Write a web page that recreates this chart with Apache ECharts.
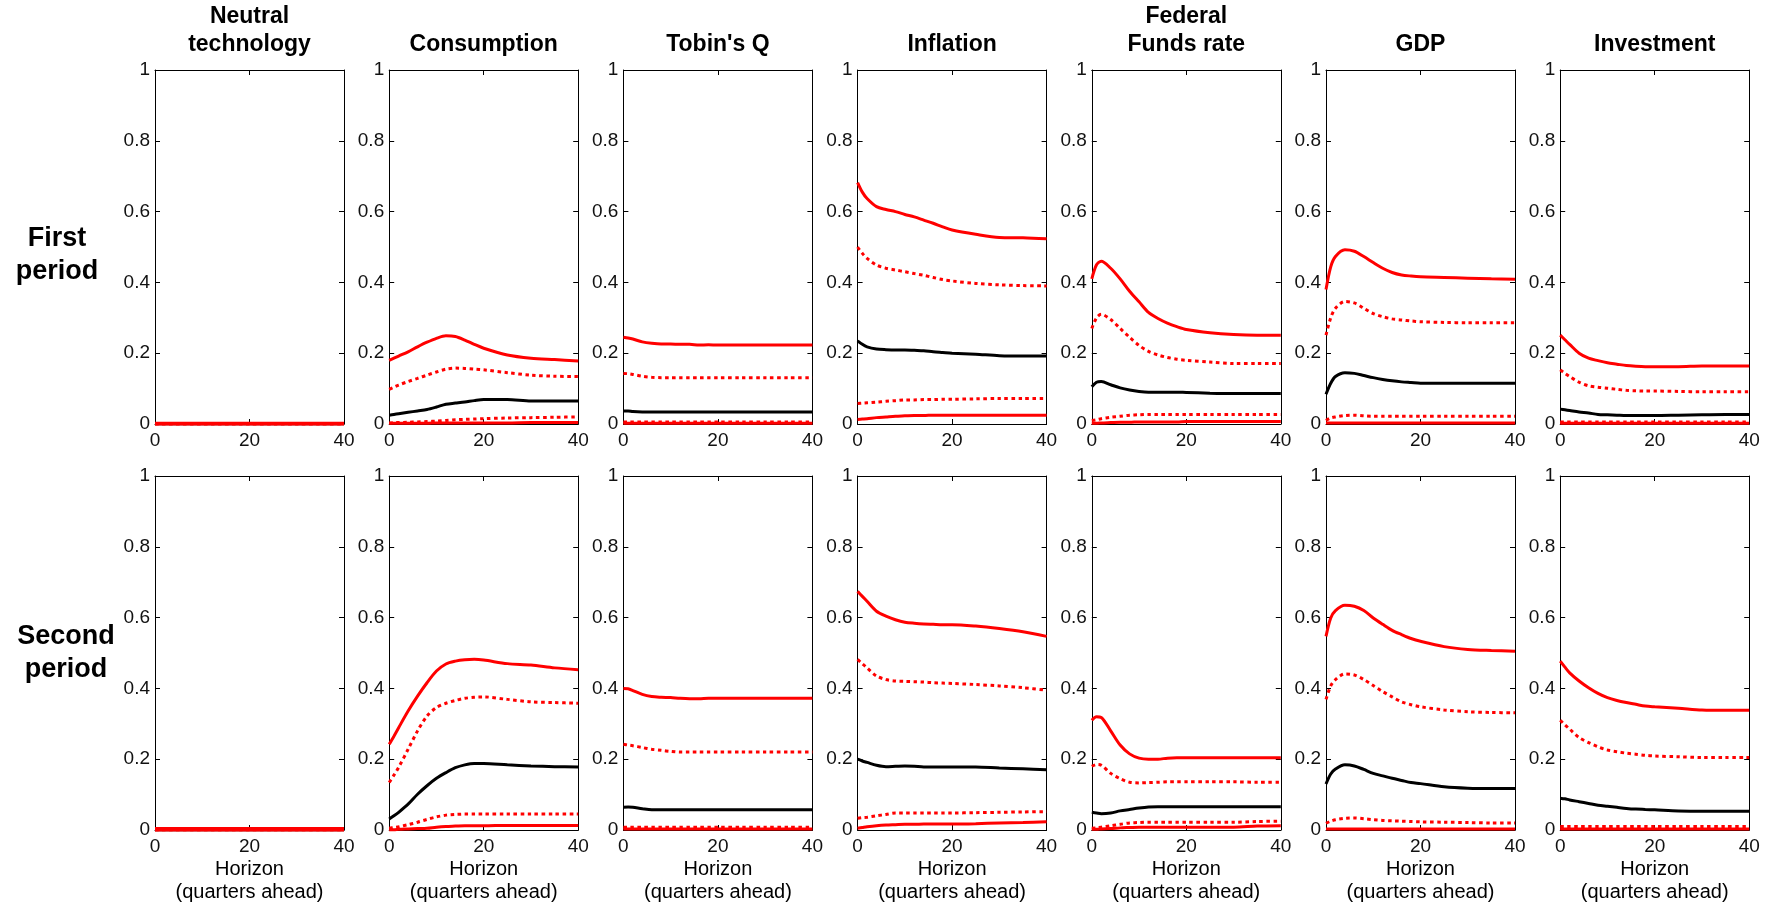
<!DOCTYPE html>
<html>
<head>
<meta charset="utf-8">
<script src="https://cdn.jsdelivr.net/npm/echarts@6/dist/echarts.min.js"></script>
<style>
  html, body { margin: 0; padding: 0; background: #fff; }
  #chart { width: 1774px; height: 905px; }
</style>
</head>
<body>
<div id="chart"></div>
<script>
// variables (columns) and periods (rows)
const panelNames = ['Neutral\ntechnology', 'Consumption', "Tobin's Q", 'Inflation', 'Federal\nFunds rate', 'GDP', 'Investment'];
const rowNames = ['First\nperiod', 'Second\nperiod'];
const horizon = [0, 1, 2, 4, 6, 8, 10, 12, 14, 16, 18, 20, 25, 30, 35, 40];

// each panel: [upper band, upper dotted, median, lower dotted, lower band]
const neutralFirst = [
  [0.002, 0.002, 0.002, 0.002, 0.002, 0.002, 0.002, 0.002, 0.002, 0.002, 0.002, 0.002, 0.002, 0.002, 0.002, 0.002],
  [0.001, 0.001, 0.001, 0.001, 0.001, 0.001, 0.001, 0.001, 0.001, 0.001, 0.001, 0.001, 0.001, 0.001, 0.001, 0.001],
  [0.001, 0.001, 0.001, 0.001, 0.001, 0.001, 0.001, 0.001, 0.001, 0.001, 0.001, 0.001, 0.001, 0.001, 0.001, 0.001],
  [0.001, 0.001, 0.001, 0.001, 0.001, 0.001, 0.001, 0.001, 0.001, 0.001, 0.001, 0.001, 0.001, 0.001, 0.001, 0.001],
  [0, 0, 0, 0, 0, 0, 0, 0, 0, 0, 0, 0, 0, 0, 0, 0]
];
const consumptionFirst = [
  [0.18, 0.186, 0.192, 0.204, 0.218, 0.231, 0.242, 0.249, 0.247, 0.237, 0.225, 0.214, 0.195, 0.186, 0.182, 0.178],
  [0.098, 0.104, 0.11, 0.12, 0.129, 0.138, 0.147, 0.155, 0.158, 0.157, 0.155, 0.153, 0.145, 0.138, 0.135, 0.134],
  [0.025, 0.027, 0.029, 0.033, 0.037, 0.041, 0.048, 0.056, 0.059, 0.062, 0.066, 0.069, 0.069, 0.065, 0.065, 0.065],
  [0.003, 0.004, 0.004, 0.005, 0.006, 0.007, 0.008, 0.01, 0.012, 0.013, 0.014, 0.015, 0.017, 0.018, 0.019, 0.02],
  [0.002, 0.002, 0.002, 0.002, 0.002, 0.002, 0.003, 0.003, 0.003, 0.003, 0.003, 0.003, 0.003, 0.004, 0.004, 0.004]
];
const tobinFirst = [
  [0.245, 0.243, 0.24, 0.232, 0.228, 0.226, 0.226, 0.225, 0.225, 0.223, 0.224, 0.223, 0.223, 0.223, 0.223, 0.223],
  [0.143, 0.142, 0.14, 0.135, 0.132, 0.131, 0.131, 0.131, 0.131, 0.131, 0.131, 0.131, 0.131, 0.131, 0.131, 0.131],
  [0.037, 0.037, 0.035, 0.034, 0.034, 0.034, 0.034, 0.034, 0.034, 0.034, 0.034, 0.034, 0.034, 0.034, 0.034, 0.034],
  [0.006, 0.006, 0.006, 0.006, 0.006, 0.006, 0.006, 0.006, 0.006, 0.006, 0.006, 0.006, 0.006, 0.006, 0.006, 0.006],
  [0.002, 0.002, 0.002, 0.002, 0.002, 0.002, 0.002, 0.002, 0.002, 0.002, 0.002, 0.002, 0.002, 0.002, 0.002, 0.002]
];
const inflationFirst = [
  [0.682, 0.655, 0.637, 0.614, 0.606, 0.6, 0.592, 0.585, 0.576, 0.567, 0.557, 0.548, 0.536, 0.527, 0.526, 0.523],
  [0.5, 0.482, 0.468, 0.449, 0.44, 0.435, 0.43, 0.425, 0.42, 0.414, 0.408, 0.404, 0.397, 0.393, 0.391, 0.39],
  [0.235, 0.225, 0.218, 0.212, 0.21, 0.209, 0.209, 0.208, 0.207, 0.204, 0.202, 0.2, 0.197, 0.193, 0.192, 0.192],
  [0.058, 0.059, 0.06, 0.062, 0.064, 0.066, 0.068, 0.068, 0.069, 0.069, 0.07, 0.07, 0.071, 0.072, 0.072, 0.072],
  [0.013, 0.014, 0.015, 0.018, 0.02, 0.022, 0.023, 0.024, 0.024, 0.025, 0.025, 0.025, 0.025, 0.025, 0.025, 0.025]
];
const fedFirst = [
  [0.41, 0.45, 0.46, 0.44, 0.41, 0.375, 0.345, 0.315, 0.298, 0.285, 0.275, 0.267, 0.258, 0.253, 0.251, 0.251],
  [0.27, 0.3, 0.31, 0.295, 0.27, 0.245, 0.222, 0.205, 0.195, 0.188, 0.183, 0.18, 0.175, 0.171, 0.171, 0.171],
  [0.105, 0.118, 0.12, 0.111, 0.102, 0.096, 0.092, 0.09, 0.09, 0.09, 0.09, 0.089, 0.087, 0.086, 0.086, 0.086],
  [0.01, 0.012, 0.015, 0.019, 0.022, 0.025, 0.026, 0.027, 0.027, 0.027, 0.027, 0.027, 0.027, 0.027, 0.027, 0.027],
  [0.002, 0.002, 0.003, 0.004, 0.005, 0.005, 0.006, 0.006, 0.006, 0.006, 0.006, 0.007, 0.007, 0.007, 0.007, 0.007]
];
const gdpFirst = [
  [0.38, 0.444, 0.473, 0.492, 0.488, 0.473, 0.456, 0.44, 0.428, 0.421, 0.418, 0.416, 0.414, 0.412, 0.41, 0.409],
  [0.251, 0.3, 0.327, 0.346, 0.342, 0.327, 0.312, 0.303, 0.297, 0.294, 0.291, 0.289, 0.287, 0.286, 0.286, 0.286],
  [0.084, 0.115, 0.134, 0.145, 0.143, 0.137, 0.131, 0.126, 0.122, 0.119, 0.117, 0.115, 0.115, 0.115, 0.115, 0.115],
  [0.01, 0.017, 0.02, 0.024, 0.025, 0.023, 0.022, 0.022, 0.022, 0.022, 0.022, 0.022, 0.022, 0.022, 0.022, 0.022],
  [0.003, 0.003, 0.003, 0.003, 0.003, 0.003, 0.003, 0.003, 0.003, 0.003, 0.003, 0.003, 0.003, 0.003, 0.003, 0.003]
];
const investmentFirst = [
  [0.251, 0.238, 0.225, 0.2, 0.186, 0.179, 0.173, 0.169, 0.165, 0.163, 0.162, 0.162, 0.162, 0.164, 0.164, 0.164],
  [0.153, 0.143, 0.134, 0.118, 0.108, 0.104, 0.101, 0.098, 0.095, 0.094, 0.093, 0.093, 0.092, 0.091, 0.091, 0.091],
  [0.042, 0.04, 0.038, 0.034, 0.031, 0.027, 0.026, 0.025, 0.024, 0.024, 0.024, 0.024, 0.025, 0.026, 0.027, 0.027],
  [0.006, 0.006, 0.006, 0.006, 0.006, 0.006, 0.006, 0.006, 0.006, 0.006, 0.006, 0.006, 0.006, 0.006, 0.006, 0.006],
  [0.002, 0.002, 0.002, 0.002, 0.002, 0.002, 0.002, 0.002, 0.002, 0.002, 0.002, 0.002, 0.002, 0.002, 0.002, 0.002]
];

const neutralSecond = [
  [0.004, 0.004, 0.004, 0.004, 0.004, 0.004, 0.004, 0.004, 0.004, 0.004, 0.004, 0.004, 0.004, 0.004, 0.004, 0.004],
  [0.003, 0.003, 0.003, 0.003, 0.003, 0.003, 0.003, 0.003, 0.003, 0.003, 0.003, 0.003, 0.003, 0.003, 0.003, 0.003],
  [0.001, 0.001, 0.001, 0.001, 0.001, 0.001, 0.001, 0.001, 0.001, 0.001, 0.001, 0.001, 0.001, 0.001, 0.001, 0.001],
  [0.001, 0.001, 0.001, 0.001, 0.001, 0.001, 0.001, 0.001, 0.001, 0.001, 0.001, 0.001, 0.001, 0.001, 0.001, 0.001],
  [0, 0, 0, 0, 0, 0, 0, 0, 0, 0, 0, 0, 0, 0, 0, 0]
];
const consumptionSecond = [
  [0.242, 0.265, 0.289, 0.336, 0.378, 0.416, 0.449, 0.469, 0.477, 0.481, 0.482, 0.48, 0.47, 0.466, 0.458, 0.453],
  [0.134, 0.155, 0.177, 0.228, 0.28, 0.322, 0.346, 0.358, 0.366, 0.372, 0.375, 0.376, 0.369, 0.362, 0.36, 0.358],
  [0.031, 0.04, 0.05, 0.073, 0.101, 0.125, 0.146, 0.162, 0.176, 0.184, 0.188, 0.188, 0.184, 0.181, 0.179, 0.178],
  [0.005, 0.007, 0.009, 0.015, 0.022, 0.03, 0.037, 0.042, 0.044, 0.045, 0.045, 0.045, 0.045, 0.045, 0.045, 0.045],
  [0.001, 0.001, 0.002, 0.003, 0.004, 0.005, 0.008, 0.01, 0.011, 0.012, 0.012, 0.012, 0.013, 0.013, 0.013, 0.013]
];
const tobinSecond = [
  [0.4, 0.399, 0.394, 0.383, 0.377, 0.375, 0.374, 0.372, 0.371, 0.371, 0.372, 0.372, 0.372, 0.372, 0.372, 0.372],
  [0.242, 0.24, 0.238, 0.233, 0.228, 0.225, 0.222, 0.22, 0.22, 0.22, 0.22, 0.22, 0.22, 0.22, 0.22, 0.22],
  [0.064, 0.065, 0.064, 0.06, 0.057, 0.057, 0.057, 0.057, 0.057, 0.057, 0.057, 0.057, 0.057, 0.057, 0.057, 0.057],
  [0.008, 0.008, 0.008, 0.008, 0.008, 0.008, 0.008, 0.008, 0.008, 0.008, 0.008, 0.008, 0.008, 0.008, 0.008, 0.008],
  [0.003, 0.003, 0.003, 0.003, 0.003, 0.003, 0.003, 0.003, 0.003, 0.003, 0.003, 0.003, 0.003, 0.003, 0.003, 0.003]
];
const inflationSecond = [
  [0.674, 0.66, 0.646, 0.618, 0.604, 0.594, 0.587, 0.584, 0.582, 0.581, 0.58, 0.58, 0.576, 0.569, 0.56, 0.547],
  [0.482, 0.47, 0.458, 0.435, 0.425, 0.421, 0.42, 0.419, 0.418, 0.416, 0.415, 0.414, 0.411, 0.407, 0.402, 0.395],
  [0.2, 0.195, 0.191, 0.183, 0.179, 0.18, 0.181, 0.18, 0.178, 0.178, 0.178, 0.178, 0.178, 0.175, 0.173, 0.17],
  [0.033, 0.035, 0.036, 0.04, 0.044, 0.048, 0.048, 0.048, 0.048, 0.048, 0.048, 0.048, 0.049, 0.05, 0.051, 0.052],
  [0.005, 0.007, 0.009, 0.012, 0.014, 0.015, 0.016, 0.016, 0.017, 0.017, 0.017, 0.017, 0.018, 0.02, 0.021, 0.023]
];
const fedSecond = [
  [0.31, 0.32, 0.318, 0.28, 0.24, 0.215, 0.203, 0.2, 0.2, 0.203, 0.204, 0.204, 0.204, 0.204, 0.204, 0.204],
  [0.18, 0.185, 0.183, 0.16, 0.145, 0.135, 0.133, 0.134, 0.135, 0.136, 0.136, 0.136, 0.136, 0.136, 0.135, 0.135],
  [0.05, 0.048, 0.046, 0.048, 0.054, 0.058, 0.062, 0.065, 0.066, 0.066, 0.066, 0.066, 0.066, 0.066, 0.066, 0.066],
  [0.005, 0.006, 0.008, 0.012, 0.016, 0.02, 0.021, 0.022, 0.022, 0.022, 0.022, 0.022, 0.022, 0.022, 0.024, 0.025],
  [0.002, 0.002, 0.003, 0.004, 0.006, 0.007, 0.008, 0.008, 0.008, 0.008, 0.008, 0.008, 0.008, 0.008, 0.011, 0.012]
];
const gdpSecond = [
  [0.547, 0.599, 0.62, 0.635, 0.632, 0.62, 0.599, 0.581, 0.564, 0.552, 0.541, 0.533, 0.518, 0.51, 0.507, 0.505],
  [0.369, 0.407, 0.425, 0.441, 0.438, 0.425, 0.408, 0.391, 0.376, 0.362, 0.354, 0.348, 0.339, 0.334, 0.332, 0.331],
  [0.13, 0.158, 0.172, 0.184, 0.181, 0.171, 0.16, 0.153, 0.146, 0.14, 0.134, 0.131, 0.122, 0.118, 0.117, 0.117],
  [0.019, 0.025, 0.029, 0.033, 0.034, 0.032, 0.029, 0.027, 0.026, 0.025, 0.024, 0.023, 0.022, 0.021, 0.02, 0.02],
  [0.003, 0.003, 0.003, 0.003, 0.003, 0.003, 0.003, 0.003, 0.003, 0.003, 0.003, 0.003, 0.003, 0.003, 0.003, 0.003]
];
const investmentSecond = [
  [0.477, 0.46, 0.444, 0.421, 0.402, 0.386, 0.374, 0.366, 0.36, 0.355, 0.35, 0.348, 0.344, 0.339, 0.338, 0.338],
  [0.31, 0.297, 0.285, 0.261, 0.247, 0.235, 0.226, 0.221, 0.217, 0.214, 0.211, 0.209, 0.207, 0.205, 0.205, 0.205],
  [0.09, 0.088, 0.085, 0.08, 0.075, 0.07, 0.067, 0.064, 0.061, 0.059, 0.058, 0.057, 0.054, 0.053, 0.053, 0.053],
  [0.01, 0.01, 0.01, 0.01, 0.01, 0.01, 0.01, 0.01, 0.01, 0.01, 0.01, 0.01, 0.01, 0.01, 0.01, 0.01],
  [0.003, 0.003, 0.003, 0.003, 0.003, 0.003, 0.003, 0.003, 0.003, 0.003, 0.003, 0.003, 0.003, 0.003, 0.003, 0.003]
];

const rows = [
  [neutralFirst, consumptionFirst, tobinFirst, inflationFirst, fedFirst, gdpFirst, investmentFirst],
  [neutralSecond, consumptionSecond, tobinSecond, inflationSecond, fedSecond, gdpSecond, investmentSecond]
];

// line styles for the 5 lines of a panel
const lineStyles = [
  { color: '#ff0000', type: 'solid' },
  { color: '#ff0000', type: [3.5, 3.5] },
  { color: '#000000', type: 'solid' },
  { color: '#ff0000', type: [3.5, 3.5] },
  { color: '#ff0000', type: 'solid' }
];

const FONT = '"Liberation Sans", Arial, sans-serif';
const gridLeft0 = 155, gridPitch = 234.2, gridW = 189, gridH = 354;
const gridTops = [70, 476];

const grids = [], xAxes = [], yAxes = [], series = [], graphics = [];

const axisBase = {
  type: 'value',
  axisLine: { show: true, onZero: false, lineStyle: { color: '#000', width: 1 } },
  axisTick: { show: true, inside: true, length: 5, lineStyle: { color: '#000', width: 1 } },
  splitLine: { show: false }
};

rows.forEach((row, r) => {
  row.forEach((panel, c) => {
    const idx = r * 7 + c;
    const left = gridLeft0 + c * gridPitch;
    grids.push({ left: left, top: gridTops[r], width: gridW, height: gridH });
    // bottom and top x axes
    xAxes.push(Object.assign({}, axisBase, {
      gridIndex: idx, position: 'bottom', min: 0, max: 40, interval: 20,
      axisLabel: { show: true, margin: 7, color: '#111', fontSize: 19, fontFamily: FONT }
    }));
    xAxes.push(Object.assign({}, axisBase, {
      gridIndex: idx, position: 'top', min: 0, max: 40, interval: 20,
      axisLabel: { show: false }
    }));
    // left and right y axes
    yAxes.push(Object.assign({}, axisBase, {
      gridIndex: idx, position: 'left', min: 0, max: 1, interval: 0.2,
      axisLabel: { show: true, margin: 5, color: '#111', fontSize: 19, fontFamily: FONT }
    }));
    yAxes.push(Object.assign({}, axisBase, {
      gridIndex: idx, position: 'right', min: 0, max: 1, interval: 0.2,
      axisLabel: { show: false }
    }));

    panel.forEach((vals, k) => {
      series.push({
        type: 'line',
        xAxisIndex: idx * 2,
        yAxisIndex: idx * 2,
        data: horizon.map((h, i) => [h, vals[i]]),
        showSymbol: false,
        smooth: 0.3,
        clip: false,
        silent: true,
        // red bands drawn over the black median
        z: k === 2 ? 4 : 5,
        lineStyle: { color: lineStyles[k].color, type: lineStyles[k].type, width: 3 }
      });
    });

    // column titles on top row
    if (r === 0) {
      graphics.push({
        type: 'text',
        style: {
          text: panelNames[c], x: left + gridW / 2, y: 59,
          align: 'center', verticalAlign: 'bottom', lineHeight: 28,
          fontSize: 23, fontWeight: 'bold', fontFamily: FONT, fill: '#000'
        }
      });
    }
    // x axis name on bottom row
    if (r === 1) {
      graphics.push({
        type: 'text',
        style: {
          text: 'Horizon\n(quarters ahead)', x: left + gridW / 2, y: 881,
          align: 'center', verticalAlign: 'middle', lineHeight: 23,
          fontSize: 20, fontFamily: FONT, fill: '#000'
        }
      });
    }
  });
});

// row labels
const rowLabelPos = [[57, 255], [66, 653]];
rowNames.forEach((name, r) => {
  graphics.push({
    type: 'text',
    style: {
      text: name, x: rowLabelPos[r][0], y: rowLabelPos[r][1],
      align: 'center', verticalAlign: 'middle', lineHeight: 33,
      fontSize: 27, fontWeight: 'bold', fontFamily: FONT, fill: '#000'
    }
  });
});

const myChart = echarts.init(document.getElementById('chart'));
myChart.setOption({
  animation: false,
  backgroundColor: '#fff',
  grid: grids,
  xAxis: xAxes,
  yAxis: yAxes,
  series: series,
  graphic: graphics
});
</script>
</body>
</html>
